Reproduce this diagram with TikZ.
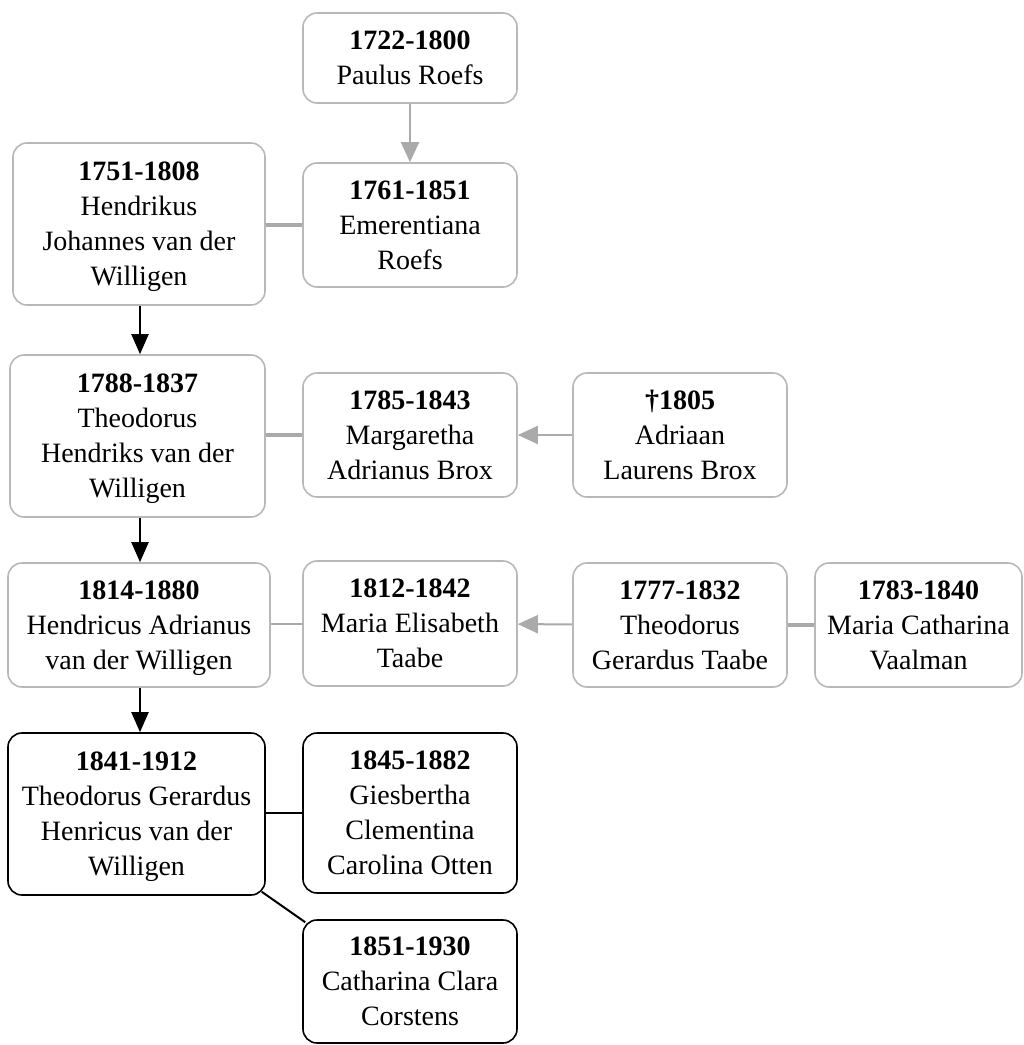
\documentclass[tikz,border=0pt]{standalone}
\usepackage{fontspec}
\setmainfont{Liberation Serif}
\usetikzlibrary{arrows.meta,calc}
\definecolor{boxgray}{HTML}{B8B8B8}
\definecolor{linegray}{HTML}{AAAAAA}
\begin{document}
\begin{tikzpicture}[x=1pt,y=-1pt,
  person/.style={draw=boxgray,line width=1.6pt,rounded corners=14pt,align=center,
    font=\fontsize{28}{35}\selectfont,inner sep=0pt,text depth=0pt},
  personb/.style={person,draw=black},
  gline/.style={draw=linegray,line width=3.5pt},
  glthin/.style={draw=linegray,line width=2pt},
  garrow/.style={draw=linegray,line width=2pt,-{Triangle[length=20pt,width=18pt]}},
  barrow/.style={draw=black,line width=2pt,-{Triangle[length=20pt,width=17pt]}},
  bline/.style={draw=black,line width=2pt}]
\useasboundingbox (0,0) rectangle (1024,1045);
\newcommand{\pbox}[7]{\node[#1,minimum width=#4-#3,minimum height=#6-#5] (#2) at ({(#3+#4)/2},{(#5+#6)/2}) {#7};}
\pbox{person}{paulus}{303}{517}{13}{103}{\textbf{1722-1800}\\Paulus Roefs}
\pbox{person}{hendrikus}{13}{265}{143}{305}{\textbf{1751-1808}\\Hendrikus\\Johannes van der\\Willigen}
\pbox{person}{emer}{303}{517}{163}{287}{\textbf{1761-1851}\\Emerentiana\\Roefs}
\pbox{person}{theo}{10}{265}{355}{517}{\textbf{1788-1837}\\Theodorus\\Hendriks van der\\Willigen}
\pbox{person}{marg}{303}{517}{373}{497}{\textbf{1785-1843}\\Margaretha\\Adrianus Brox}
\pbox{person}{adriaan}{573}{787}{373}{497}{\textbf{†1805}\\Adriaan\\Laurens Brox}
\pbox{person}{hendricus}{8}{270}{563}{687}{\textbf{1814-1880}\\Hendricus Adrianus\\van der Willigen}
\pbox{person}{mariae}{303}{517}{561}{686}{\textbf{1812-1842}\\Maria Elisabeth\\Taabe}
\pbox{person}{taabe}{573}{787}{563}{687}{\textbf{1777-1832}\\Theodorus\\Gerardus Taabe}
\pbox{person}{mariac}{815}{1022}{563}{687}{\textbf{1783-1840}\\Maria Catharina\\Vaalman}
\pbox{personb}{tgh}{8}{265}{733}{895}{\textbf{1841-1912}\\Theodorus Gerardus\\Henricus van der\\Willigen}
\pbox{personb}{gies}{303}{517}{733}{893}{\textbf{1845-1882}\\Giesbertha\\Clementina\\Carolina Otten}
\pbox{personb}{cath}{303}{517}{920}{1043}{\textbf{1851-1930}\\Catharina Clara\\Corstens}

\draw[garrow] (paulus) -- (emer);
\draw[gline] (hendrikus.east |- emer.west) -- (emer.west);
\draw[barrow] (hendrikus.south -| 140,0) -- (theo.north -| 140,0);
\draw[gline] (theo.east |- marg.west) -- (marg.west);
\draw[garrow] (adriaan) -- (marg);
\draw[barrow] (theo.south -| 140,0) -- (hendricus.north -| 140,0);
\draw[glthin] (hendricus.east |- mariae.west) -- (mariae.west);
\draw[garrow] (taabe) -- (mariae);
\draw[gline] (taabe) -- (mariac);
\draw[barrow] (hendricus.south -| 140,0) -- (tgh.north -| 140,0);
\draw[bline] (tgh.east |- gies.west) -- (gies.west);
\draw[bline] ([shift={(-4,-4)}]tgh.south east) -- ([shift={(3,3)}]cath.north west);
\end{tikzpicture}
\end{document}
